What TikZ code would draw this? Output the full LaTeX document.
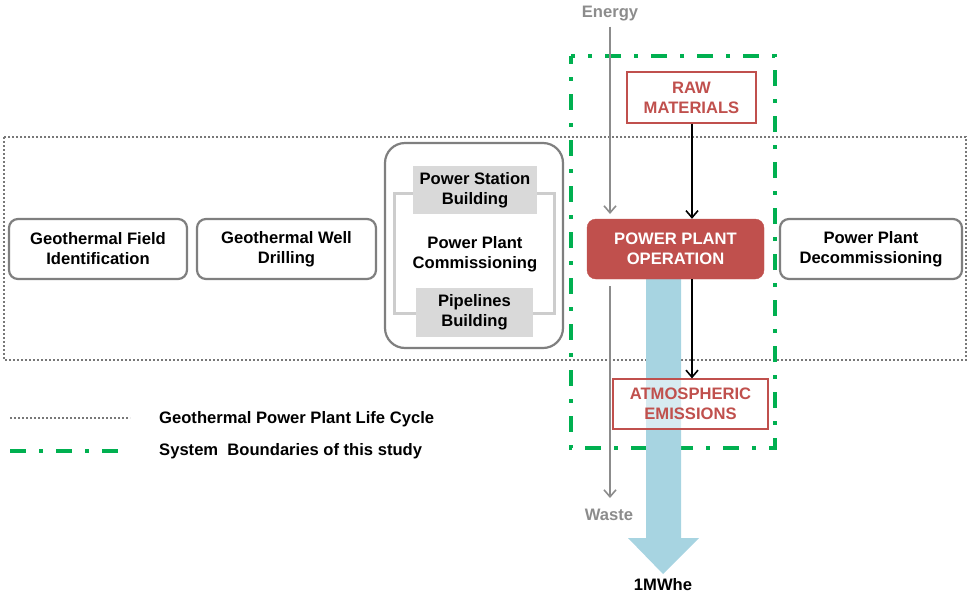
\documentclass[tikz,border=0pt]{standalone}
\usepackage{fontspec}
\setmainfont{Liberation Sans}
\usetikzlibrary{arrows.meta}
\definecolor{boxgray}{RGB}{127,127,127}
\definecolor{dotgray}{RGB}{120,120,120}
\definecolor{lgray}{RGB}{217,217,217}
\definecolor{brk}{RGB}{205,205,205}
\definecolor{redc}{RGB}{192,80,77}
\definecolor{greenc}{RGB}{0,176,80}
\definecolor{bluec}{RGB}{167,212,225}
\definecolor{txtgray}{RGB}{140,140,140}
\newcommand\bodyfont{\bfseries\fontsize{16.6}{20}\selectfont}
\tikzset{
  stage/.style={draw=boxgray, line width=2.2pt, rounded corners=9pt, fill=white, align=center, font=\bodyfont, inner sep=0pt},
  sub/.style={fill=lgray, align=center, font=\bodyfont, inner sep=0pt},
  redbox/.style={draw=redc, line width=1.2pt, fill=white, fill opacity=0.55, text opacity=1, align=center, text=redc, font=\bodyfont, inner sep=0pt},
  lifedot/.style={draw=dotgray, line width=1.7pt, dash pattern=on 2pt off 2pt},
  sysb/.style={draw=greenc, line width=3.5pt, dash pattern=on 16pt off 13pt on 4pt off 13pt},
  grayarr/.style={draw=txtgray, line width=1.6pt, -{Straight Barb[length=7pt,width=12pt,line width=1.6pt]}},
  blackarr/.style={draw=black, line width=1.6pt, -{Straight Barb[length=7pt,width=12pt,line width=1.6pt]}},
  lbl/.style={font=\bodyfont, inner sep=0pt},
}
\begin{document}
\begin{tikzpicture}[x=1pt,y=-1pt]
\useasboundingbox (0,0) rectangle (967,595);
% life cycle dotted frame
\draw[lifedot] (4,137) rectangle (966,360);
% system boundaries
\draw[sysb, dash phase=8pt] (571,56) rectangle (775,448);
% blue output arrow
\fill[bluec] (646,279) -- (681,279) -- (681,538) -- (699,538) -- (663,574) -- (628,538) -- (646,538) -- cycle;
% stages
\node[stage, minimum width=178pt, minimum height=60pt] (gfi) at (98,249) {Geothermal Field\\Identification};
\node[stage, minimum width=179pt, minimum height=60pt] (gwd) at (286.5,249) {Geothermal Well\\Drilling};
\node[stage, minimum width=178pt, minimum height=205pt, rounded corners=20pt] (ppc) at (474,245.5) {};
\draw[brk, line width=3pt] (413,193) -- (394,193) -- (394,313) -- (416,313);
\draw[brk, line width=3pt] (537,193) -- (554,193) -- (554,313) -- (533,313);
\node[sub, minimum width=124pt, minimum height=48pt] (psb) at (475,190) {Power Station\\Building};
\node[sub, minimum width=117pt, minimum height=49pt] (plb) at (474.5,312.5) {Pipelines\\Building};
\node[lbl, align=center] (comm) at (475,254) {Power Plant\\Commissioning};
\node[stage, minimum width=182pt, minimum height=60pt] (ppd) at (871,249) {Power Plant\\Decommissioning};
\node[draw=redc, fill=redc, rounded corners=9pt, minimum width=177pt, minimum height=60pt, text=white, align=center, font=\bodyfont, inner sep=0pt] (ppo) at (675.5,249) {POWER PLANT\\OPERATION};
\node[redbox, minimum width=129pt, minimum height=51pt] (raw) at (691.5,97.5) {RAW\\MATERIALS};
\node[redbox, minimum width=155pt, minimum height=50pt] (atm) at (690.5,404) {ATMOSPHERIC\\EMISSIONS};
% energy / waste
\node[lbl, text=txtgray] (energy) at (610,14) {Energy};
\node[lbl, text=txtgray] (waste) at (609,515) {Waste};
\coordinate (ein) at (610,214);
\coordinate (wout) at (610,286);
\draw[grayarr] (energy.south) ++(0,5) -- (ein);
\draw[grayarr] (wout) -- (610,498);
\draw[blackarr] (raw.south -| 692,0) -- (ppo.north -| 692,0);
\draw[blackarr] (ppo.south -| 692,0) -- (atm.north -| 692,0);
\node[lbl] (mwhe) at (663,585) {1MWhe};
% legend
\coordinate (l1a) at (10,418); \coordinate (l1b) at (130,418);
\coordinate (l2a) at (10,451); \coordinate (l2b) at (124,451);
\draw[lifedot, line width=1.3pt] (l1a) -- (l1b);
\draw[sysb, line width=4pt] (l2a) -- (l2b);
\node[lbl, anchor=west] (leg1) at (159,419) {Geothermal Power Plant Life Cycle};
\node[lbl, anchor=west] (leg2) at (159,451) {System\ \ Boundaries of this study};
\end{tikzpicture}
\end{document}
